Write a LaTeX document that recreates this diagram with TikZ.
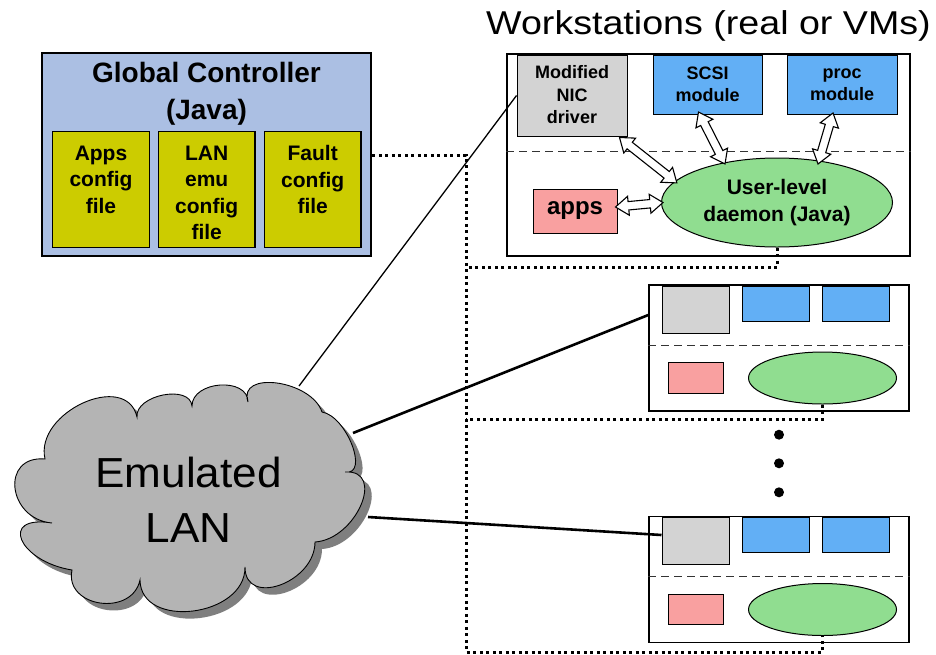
\documentclass[tikz,border=0pt]{standalone}
\usepackage{fontspec}
\setmainfont{Liberation Sans}
\usetikzlibrary{shapes.geometric,calc}

\definecolor{gcblue}{HTML}{ABBFE3}
\definecolor{cfgyellow}{HTML}{CCCC00}
\definecolor{nicgray}{HTML}{D3D3D3}
\definecolor{modblue}{HTML}{62AFF5}
\definecolor{appred}{HTML}{F9A0A0}
\definecolor{dgreen}{HTML}{90DD90}
\definecolor{cloudgray}{HTML}{B4B4B4}
\definecolor{cloudshade}{HTML}{7F7F7F}

% hollow two-headed block arrow between two named points
\newcommand\blkarrow[2]{%
  \path let \p1=($(#2)-(#1)$) in \pgfextra{%
    \pgfmathsetmacro\arrlen{veclen(\x1,\y1)}%
    \pgfmathsetmacro\arrang{atan2(\y1,\x1)}%
    \global\let\arrlen\arrlen \global\let\arrang\arrang};
  \draw[arrowpoly, shift={(#1)}, rotate=\arrang]
    (0,0) -- (13,9.5) -- (13,4.2) -- (\arrlen-13,4.2) -- (\arrlen-13,9.5) -- (\arrlen,0)
    -- (\arrlen-13,-9.5) -- (\arrlen-13,-4.2) -- (13,-4.2) -- (13,-9.5) -- cycle;}

% outline of the LAN cloud
\def\cloudpath{(45,459) .. controls (34.3,412.3) and (126.3,370.3) .. (137,417)
 .. controls (135,395) and (190,384) .. (192,406)
 .. controls (192,380.7) and (248,376.7) .. (248,402)
 .. controls (237.3,370) and (311.3,380) .. (322,412)
 .. controls (346.7,416) and (369.7,476) .. (345,472)
 .. controls (386.3,469.3) and (356.3,539.3) .. (315,542)
 .. controls (315,582.7) and (245,607.7) .. (245,567)
 .. controls (245.7,617) and (140.7,630) .. (140,580)
 .. controls (132,617.3) and (64,607.3) .. (72,570)
 .. controls (18.3,561.3) and (-1.7,514.3) .. (52,523)
 .. controls (7.3,519) and (0.3,455) .. (45,459) -- cycle}

\begin{document}
\begin{tikzpicture}[x=1pt,y=-1pt,
  box/.style={draw, rectangle, inner sep=0pt, line width=1pt},
  cfgbox/.style={box, fill=cfgyellow, line width=1.2pt, minimum width=96.6pt, minimum height=115.3pt},
  cfgtext/.style={font=\fontsize{21}{26.5}\selectfont\bfseries, align=center, inner sep=0pt, anchor=north},
  modtext/.style={font=\fontsize{18}{22.5}\selectfont\bfseries, align=center, inner sep=0pt},
  daemon/.style={draw, ellipse, fill=dgreen, inner sep=0pt, line width=1pt},
  dashline/.style={line width=1pt, black!80, dash pattern=on 8pt off 5pt},
  dotline/.style={line width=3pt, dash pattern=on 3pt off 3.5pt},
  arrowpoly/.style={draw, fill=white, line width=1.1pt, line join=miter},
  dotmark/.style={circle, fill=black, inner sep=0pt, minimum size=10pt}
]
\useasboundingbox (0,0) rectangle (936,654);

% ---------- global controller ----------
\node[box, line width=2.5pt, fill=gcblue, minimum width=329pt, minimum height=203pt] (gc) at (206.5,154.5) {};
\node[font=\fontsize{28}{37}\selectfont\bfseries, align=center] (gctitle) at (206.5,94) {Global Controller\\(Java)};
\node[cfgbox] (appsCfg)  at (101,189.5) {};
\node[cfgbox] (lanCfg)   at (206.7,189.5) {};
\node[cfgbox] (faultCfg) at (312.7,189.5) {};
\node[cfgtext] (appsCfgTxt)  at (101,145.5)   {Apps\\config\\file};
\node[cfgtext] (lanCfgTxt)   at (206.7,145.5) {LAN\\emu\\config\\file};
\node[cfgtext] (faultCfgTxt) at (312.7,145.5) {Fault\\config\\file};

% ---------- workstations ----------
\node[font=\fontsize{33}{40}\selectfont] (wstitle) at (708.5,26) {\scalebox{1.14}[1]{Workstations (real or VMs)}};

\node[box, line width=2pt, minimum width=403pt, minimum height=202pt] (ws1) at (708.5,155) {};
\draw[dashline] ($(ws1.west)+(0,-4)$) -- ($(ws1.east)+(0,-4)$);
\node[box, fill=nicgray, minimum width=110pt, minimum height=81pt] (nic1) at (572,95.5) {};
\node[modtext] (nic1Txt) at (572,95) {Modified\\NIC\\driver};
\node[box, fill=modblue, minimum width=109pt, minimum height=59pt, modtext] (scsi1) at (707.5,84.5) {SCSI\\module};
\node[box, fill=modblue, minimum width=110pt, minimum height=59pt, modtext] (proc1) at (842,84.5) {proc\\module};
\node[box, fill=appred, minimum width=84pt, minimum height=44pt, font=\fontsize{24}{28}\selectfont\bfseries] (app1) at (575,211) {apps};
\node[daemon, minimum width=231pt, minimum height=89pt, modtext, font=\fontsize{21}{26.5}\selectfont\bfseries] (ell1) at (777,202.5) {User-level\\daemon (Java)};

\coordinate (nicA1) at (619.5,137.5);  \coordinate (nicA2) at (677,183);
\coordinate (scsiA1) at (698.5,112);   \coordinate (scsiA2) at (725,164);
\coordinate (procA1) at (833,113);     \coordinate (procA2) at (818,164);
\coordinate (appA1) at (615.5,207);    \coordinate (appA2) at (663,202.5);
\blkarrow{nicA1}{nicA2}
\blkarrow{scsiA1}{scsiA2}
\blkarrow{procA1}{procA2}
\blkarrow{appA1}{appA2}

\foreach \k/\dy in {2/0, 3/231.5}{
  \begin{scope}[shift={(0,\dy)}]
    \node[box, line width=1.5pt, minimum width=260pt, minimum height=126pt] (ws\k) at (779,348) {};
    \draw[dashline] ($(ws\k.west)+(0,-3)$) -- ($(ws\k.east)+(0,-3)$);
    \node[box, fill=nicgray, minimum width=67pt, minimum height=47pt] (nic\k) at (695.5,309.5) {};
    \node[box, fill=modblue, minimum width=67pt, minimum height=35pt] (scsi\k) at (775.7,303.5) {};
    \node[box, fill=modblue, minimum width=67pt, minimum height=35pt] (proc\k) at (855.7,303.5) {};
    \node[box, fill=appred, minimum width=55pt, minimum height=30.5pt] (app\k) at (695.8,378) {};
    \node[daemon, minimum width=148pt, minimum height=52pt] (ell\k) at (822.5,378) {};
  \end{scope}
}

\node[dotmark] (dot1) at (779,434.7) {};
\node[dotmark] (dot2) at (779,463.3) {};
\node[dotmark] (dot3) at (779,492.3) {};

% ---------- control bus (dotted) ----------
\coordinate (busTop) at (466,155);
\coordinate (busBot) at (466,652);
\draw[dotline] (busTop -| gc.east) -- (busTop) -- (busBot) -| (ell3.south);
\draw[dotline] (ell1.south) |- (466,267);
\draw[dotline] (ell2.south) |- (466,419);

% ---------- emulated LAN ----------
\fill[cloudshade, shift={(7,7)}] \cloudpath;
\filldraw[fill=cloudgray, draw=black, line width=0.9pt] \cloudpath;
\node[font=\fontsize{42}{55}\selectfont, align=center] (lanTxt) at (188.5,500)
  {\scalebox{1.05}[1]{Emulated}\\\scalebox{1.05}[1]{LAN}};

\coordinate (lanL1) at (299,386);
\coordinate (lanL2) at (353,433);
\coordinate (lanL3) at (368,517);
\coordinate (l2end) at ($(ws2.west)+(0,-33)$);
\coordinate (l3end) at ($(nic3.west)+(0,-6)$);
\draw[line width=1.3pt] (lanL1) -- (nic1.west);
\draw[line width=2.6pt] (lanL2) -- (l2end);
\draw[line width=2.6pt] (lanL3) -- (l3end);
\end{tikzpicture}
\end{document}
